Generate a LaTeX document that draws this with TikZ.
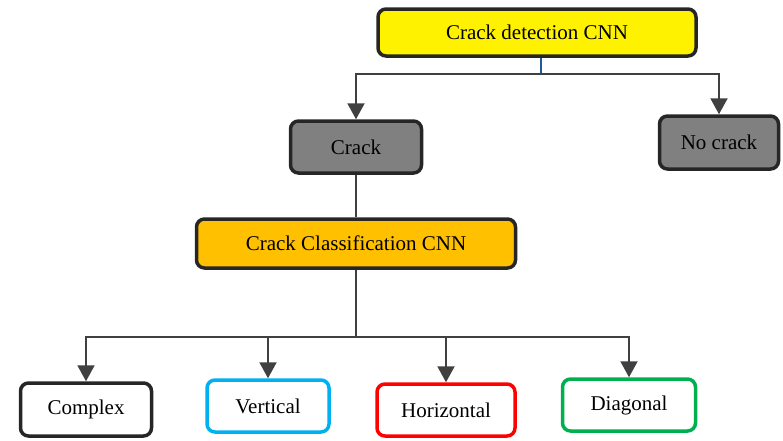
\documentclass[tikz,border=0pt]{standalone}
\usepackage{fontspec}
\setmainfont{Liberation Serif}
\usetikzlibrary{arrows.meta}
\definecolor{edgegray}{RGB}{64,64,64}
\definecolor{boxline}{RGB}{38,38,38}
\definecolor{cnnorange}{RGB}{255,192,0}
\definecolor{vertblue}{RGB}{0,176,240}
\definecolor{diaggreen}{RGB}{0,176,80}
\definecolor{stemblue}{RGB}{31,90,150}

\begin{document}
\begin{tikzpicture}[x=1pt,y=-1pt,
  box/.style={draw=boxline,line width=3.5pt,rounded corners=8pt,
    font=\fontsize{21}{25}\selectfont,inner sep=0pt},
  conn/.style={draw=edgegray,line width=2pt},
  arr/.style={conn,-{Triangle[length=16pt,width=17pt]}}]

\useasboundingbox (0,0) rectangle (783,440);

\node[box,fill=yellow,minimum width=318pt,minimum height=47pt] (detect) at (537,32.5) {Crack detection CNN};
\node[box,fill=gray,minimum width=131pt,minimum height=52pt] (crack) at (356,147) {Crack};
\node[box,fill=gray,minimum width=119pt,minimum height=53pt] (nocrack) at (719,142.5) {No crack};
\node[box,fill=cnnorange,minimum width=319pt,minimum height=49pt] (classify) at (356,243.5) {Crack Classification CNN};

\node[box,fill=white,minimum width=131pt,minimum height=53pt] (complex) at (86,409.5) {Complex};
\node[box,draw=vertblue,fill=white,minimum width=122pt,minimum height=52pt] (vertical) at (268,406) {Vertical};
\node[box,draw=red,fill=white,minimum width=138pt,minimum height=52pt] (horizontal) at (446,410) {Horizontal};
\node[box,draw=diaggreen,fill=white,minimum width=133pt,minimum height=52pt] (diagonal) at (629,405) {Diagonal};

\coordinate (split1) at (541,74);
\coordinate (split2) at (356,337);

% first stage
\draw[stemblue,line width=1.5pt] (detect.south -| split1) -- (split1);
\draw[conn] (crack.north |- split1) -- (nocrack.north |- split1);
\path[arr] (split1) -| (crack.north);
\path[arr] (split1) -| (nocrack.north);

% second stage
\draw[conn] (crack) -- (classify);
\draw[conn] (classify) -- (split2);
\draw[conn] (split2 -| complex.north) -- (split2 -| diagonal.north);
\path[arr] (split2) -| (complex.north);
\path[arr] (split2) -| (vertical.north);
\path[arr] (split2) -| (horizontal.north);
\path[arr] (split2) -| (diagonal.north);

\end{tikzpicture}
\end{document}
